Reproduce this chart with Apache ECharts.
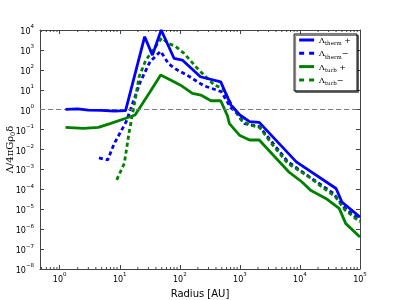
<!DOCTYPE html>
<html><head><meta charset="utf-8">
<script src="https://cdn.jsdelivr.net/npm/echarts@6/dist/echarts.min.js"></script>
<style>html,body{margin:0;padding:0;background:#fff}#c{width:400px;height:300px}</style>
</head><body><div id="c"></div>
<script>
// Radius [AU] and values
const thermPlusR = [1.25, 2, 3, 5, 8, 12.5, 26, 35, 49, 80, 110, 220, 480, 710, 1000, 1450, 2100, 8700, 40000, 50000, 100000];
const thermPlus  = [1.03, 1.1, 0.95, 0.93, 0.85, 0.9, 4600, 550, 10000, 380, 310, 45, 25, 1.7, 0.54, 0.25, 0.23, 2.4e-3, 1.1e-4, 2.3e-5, 4e-6];

const thermMinusR = [4.5, 6.3, 8.1, 12.8, 22, 32, 48, 65, 90, 130, 250, 490, 700, 890, 1200, 2130, 6300, 13800, 36000, 56600, 100000];
const thermMinus  = [3.8e-3, 3.0e-3, 0.02, 0.25, 25, 260, 850, 200, 100, 56, 16, 8, 1.3, 0.65, 0.2, 0.14, 2.4e-3, 4.6e-4, 6.3e-5, 1.1e-5, 2.8e-6];

const turbPlusR = [1.25, 2.5, 4.4, 6.9, 12.3, 18, 32, 48, 70, 103, 162, 224, 330, 480, 620, 670, 1000, 1450, 2100, 3800, 6500, 10700, 15000, 27000, 45000, 58000, 100000];
const turbPlus  = [0.13, 0.115, 0.13, 0.2, 0.36, 0.54, 8, 55, 31, 17, 6.6, 5.4, 2.8, 2.8, 0.5, 0.2, 0.05, 0.03, 0.03, 4.3e-3, 7.6e-4, 2.4e-4, 9e-5, 3.5e-5, 1.1e-5, 1.9e-6, 4e-7];

const turbMinusR = [8.9, 11.9, 14.4, 18, 21, 27, 36, 50, 65, 85, 117, 195, 375, 515, 710, 1050, 1450, 2130, 3500, 6300, 14500, 23000, 39000, 56600, 100000];
const turbMinus  = [3e-4, 2e-3, 0.08, 3, 45, 300, 1000, 4000, 2100, 1500, 680, 120, 17, 12, 2, 0.3, 0.17, 0.13, 0.017, 2e-3, 4e-4, 1.35e-4, 4.2e-5, 9e-6, 2.3e-6];

const seriesNames = ['therm+', 'therm-', 'turb+', 'turb-'];
const xMin = 0.47, xMax = 1e5, yMin = 1e-8, yMax = 1e4;
const minorMult = [2, 3, 4, 5, 6, 7, 8, 9];
const decades = [0.1, 1, 10, 100, 1000, 10000];

const minorTicks = [];
decades.forEach(d => minorMult.forEach(m => { const v = m * d; if (v > xMin && v < xMax) minorTicks.push([v]); }));

function zip(a, b) { return a.map((x, i) => [x, b[i]]); }

function powLabel(v) {
  const e = Math.round(Math.log10(v));
  return '{b|10}{e|' + (e < 0 ? '\u2212' + (-e) : e) + '}';
}
const tickRich = {
  b: { fontSize: 8, fontFamily: 'DejaVu Sans', color: '#000', lineHeight: 12, verticalAlign: 'bottom' },
  e: { fontSize: 5.5, fontFamily: 'DejaVu Sans', color: '#000', lineHeight: 12, verticalAlign: 'top' }
};
const spine = { lineStyle: { color: '#444', width: 1 } };
const tickStyle = { inside: true, length: 4, lineStyle: { color: '#444', width: 1 } };

const legendLabel = {
  'therm+': '{a|Λ}{s|therm}{a| +}',
  'therm-': '{a|Λ}{s|therm}{a|\u2212}',
  'turb+': '{a|Λ}{s|turb}{a| +}',
  'turb-': '{a|Λ}{s|turb}{a|\u2212}'
};
const solidIcon = 'path://M0,0h15v3h-15z';
const dashIcon = 'path://M0,0h5v3h-5zM10,0h5v3h-5z';

const chart = echarts.init(document.getElementById('c'), null, { renderer: 'canvas' });
chart.setOption({
  animation: false,
  backgroundColor: '#fff',
  grid: { left: 40, right: 40, top: 30, bottom: 31, containLabel: false, outerBoundsMode: 'none' },
  legend: {
    data: [
      { name: 'therm+', icon: solidIcon },
      { name: 'therm-', icon: dashIcon },
      { name: 'turb+', icon: solidIcon },
      { name: 'turb-', icon: dashIcon }
    ],
    orient: 'vertical',
    right: 43, top: 34,
    padding: [3, 6, 4, 5],
    itemWidth: 15, itemHeight: 3, itemGap: 3.3,
    backgroundColor: '#fff',
    borderColor: '#000', borderWidth: 1, borderRadius: 0,
    shadowColor: 'rgba(0,0,0,0.5)', shadowOffsetX: 1.5, shadowOffsetY: 1.5, shadowBlur: 0,
    formatter: n => legendLabel[n],
    textStyle: {
      rich: {
        a: { fontSize: 8, fontFamily: 'DejaVu Serif', color: '#000', lineHeight: 10, verticalAlign: 'bottom' },
        s: { fontSize: 5.5, fontFamily: 'DejaVu Serif', color: '#000', lineHeight: 10, verticalAlign: 'bottom', padding: [0, 0, -2, 0] }
      }
    }
  },
  xAxis: [
    { type: 'log', logBase: 10, min: xMin, max: xMax, splitNumber: 6, position: 'bottom',
      axisLine: spine, axisTick: tickStyle, splitLine: { show: false },
      axisLabel: { showMinLabel: false, margin: 3, formatter: powLabel, rich: tickRich },
      name: 'Radius [AU]', nameLocation: 'middle', nameGap: 20, nameMoveOverlap: false,
      nameTextStyle: { fontSize: 10, fontFamily: 'DejaVu Sans', color: '#000' } },
    { type: 'log', logBase: 10, min: xMin, max: xMax, splitNumber: 6, position: 'top',
      axisLine: spine, axisTick: tickStyle, splitLine: { show: false }, axisLabel: { show: false } }
  ],
  yAxis: [
    { type: 'log', logBase: 10, min: yMin, max: yMax, interval: 1, position: 'left',
      axisLine: spine, axisTick: tickStyle, splitLine: { show: false },
      axisLabel: { margin: 6, formatter: powLabel, rich: tickRich },
      name: '{g|Λ/4πGρ}{s|0}{g|δ}', nameLocation: 'middle', nameRotate: 90, nameGap: 25, nameMoveOverlap: false,
      nameTextStyle: { rich: {
        g: { fontSize: 10, fontFamily: 'DejaVu Serif', color: '#000', lineHeight: 12, verticalAlign: 'bottom' },
        s: { fontSize: 6.5, fontFamily: 'DejaVu Serif', color: '#000', lineHeight: 12, verticalAlign: 'bottom', padding: [0, 0, -2, 0] }
      } } },
    { type: 'log', logBase: 10, min: yMin, max: yMax, interval: 1, position: 'right',
      axisLine: spine, axisTick: tickStyle, splitLine: { show: false }, axisLabel: { show: false } }
  ],
  series: [
    { type: 'line', name: 'ref', data: [], z: 1, silent: true,
      markLine: { silent: true, symbol: ['none', 'none'], label: { show: false },
        lineStyle: { color: '#777', type: [5, 3], width: 1.2 }, data: [{ yAxis: 1 }] } },
    { type: 'custom', name: 'minor', silent: true, z: 3, data: minorTicks,
      encode: { x: 0 },
      renderItem: (params, api) => {
        const b = api.coord([api.value(0), yMin]);
        const t = api.coord([api.value(0), yMax]);
        const st = { stroke: '#444', lineWidth: 1 };
        return { type: 'group', children: [
          { type: 'line', shape: { x1: b[0], y1: b[1], x2: b[0], y2: b[1] - 2 }, style: st },
          { type: 'line', shape: { x1: t[0], y1: t[1], x2: t[0], y2: t[1] + 2 }, style: st }
        ] };
      } },
    { type: 'line', name: 'therm+', data: zip(thermPlusR, thermPlus), symbol: 'none', z: 5,
      lineStyle: { color: '#0000ff', width: 2.8 }, itemStyle: { color: '#0000ff' } },
    { type: 'line', name: 'therm-', data: zip(thermMinusR, thermMinus), symbol: 'none', z: 4,
      lineStyle: { color: '#0000ff', width: 2.8, type: [4, 3] }, itemStyle: { color: '#0000ff' } },
    { type: 'line', name: 'turb+', data: zip(turbPlusR, turbPlus), symbol: 'none', z: 4,
      lineStyle: { color: '#008000', width: 2.8 }, itemStyle: { color: '#008000' } },
    { type: 'line', name: 'turb-', data: zip(turbMinusR, turbMinus), symbol: 'none', z: 4,
      lineStyle: { color: '#008000', width: 2.8, type: [4, 3] }, itemStyle: { color: '#008000' } }
  ]
});
</script>
</body></html>
